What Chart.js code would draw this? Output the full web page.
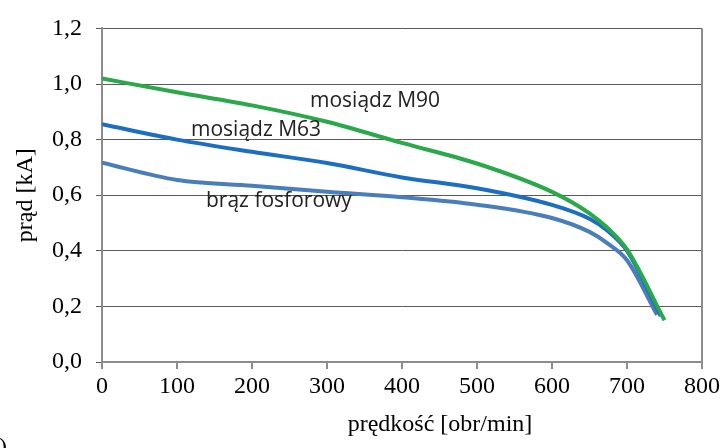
<!DOCTYPE html>
<html>
<head>
<meta charset="utf-8">
<script src="https://cdn.jsdelivr.net/npm/chart.js@4"></script>
<style>
  html, body { margin: 0; padding: 0; background: #fff; }
  #wrap { width: 724px; height: 448px; }
</style>
</head>
<body>
<div id="wrap"><canvas id="chart"></canvas></div>
<script>
// values
var speedM90 = [0, 100, 200, 300, 400, 500, 600, 650, 675, 700, 750];
var currentM90 = [1.02, 0.97, 0.923, 0.864, 0.788, 0.714, 0.612, 0.535, 0.48, 0.405, 0.15];

var speedM63 = [0, 100, 200, 300, 400, 500, 600, 650, 675, 700, 745];
var currentM63 = [0.855, 0.80, 0.756, 0.716, 0.664, 0.625, 0.565, 0.515, 0.47, 0.40, 0.165];

var speedBraz = [0, 100, 200, 300, 400, 500, 600, 650, 675, 700, 740];
var currentBraz = [0.717, 0.655, 0.634, 0.612, 0.593, 0.566, 0.518, 0.468, 0.425, 0.366, 0.17];

var labels = ['mosiądz M90', 'mosiądz M63', 'brąz fosforowy'];
var xTitle = 'prędkość [obr/min]';
var yTitle = 'prąd [kA]';

var serif = "'Liberation Serif', 'Times New Roman', serif";
var sans = "'Open Sans', sans-serif";

function points(xs, ys) {
  return xs.map(function (x, i) { return { x: x, y: ys[i] }; });
}

function line(label, xs, ys, colour) {
  return {
    label: label,
    data: points(xs, ys),
    borderColor: colour,
    borderWidth: 4,
    pointRadius: 0,
    fill: false,
    cubicInterpolationMode: 'monotone'
  };
}

// labels written on the plot, axis titles, right border
var extras = {
  id: 'extras',
  afterDraw: function (chart) {
    var ctx = chart.ctx;
    var area = chart.chartArea;
    ctx.save();

    ctx.strokeStyle = '#8c8c8c';
    ctx.lineWidth = 2;
    ctx.beginPath();
    ctx.moveTo(area.right, area.top);
    ctx.lineTo(area.right, area.bottom);
    ctx.stroke();

    ctx.fillStyle = '#222';
    ctx.font = '21px ' + sans;
    ctx.textAlign = 'left';
    ctx.textBaseline = 'alphabetic';
    ctx.fillText(labels[0], 310, 107);
    ctx.fillText(labels[1], 191, 136);
    ctx.fillText(labels[2], 206, 207);

    ctx.fillStyle = '#000';
    ctx.font = '24px ' + serif;
    ctx.textAlign = 'center';
    ctx.textBaseline = 'middle';
    ctx.fillText(xTitle, 440, 425);

    ctx.save();
    ctx.translate(26, (area.top + area.bottom) / 2);
    ctx.rotate(-Math.PI / 2);
    ctx.fillText(yTitle, 0, 0);
    ctx.restore();

    ctx.textAlign = 'right';
    ctx.textBaseline = 'alphabetic';
    ctx.fillText('b)', 7, 454);
    ctx.restore();
  }
};

new Chart(document.getElementById('chart'), {
  type: 'line',
  data: {
    datasets: [
      line(labels[0], speedM90, currentM90, '#2ba84a'),
      line(labels[1], speedM63, currentM63, '#1c6ec2'),
      line(labels[2], speedBraz, currentBraz, '#4a7ebb')
    ]
  },
  options: {
    responsive: true,
    maintainAspectRatio: false,
    animation: false,
    layout: { padding: { left: 0, right: 22, top: 25, bottom: 0 } },
    plugins: {
      legend: { display: false },
      tooltip: { enabled: false }
    },
    scales: {
      x: {
        type: 'linear',
        min: 0,
        max: 800,
        afterFit: function (scale) { scale.height = 86; },
        ticks: {
          stepSize: 100,
          color: '#000',
          padding: 3,
          maxRotation: 0,
          font: { family: serif, size: 24 }
        },
        grid: {
          drawOnChartArea: false,
          drawTicks: true,
          tickLength: 7,
          color: '#8c8c8c',
          lineWidth: 2
        },
        border: { color: '#8c8c8c', width: 2 }
      },
      y: {
        min: 0,
        max: 1.2,
        afterFit: function (scale) { scale.width = 102; },
        ticks: {
          stepSize: 0.2,
          color: '#000',
          padding: 14,
          font: { family: serif, size: 24 },
          callback: function (v) { return v.toFixed(1).replace('.', ','); }
        },
        grid: {
          color: '#5a5a5a',
          lineWidth: 1,
          tickLength: 6
        },
        border: { color: '#8c8c8c', width: 2 }
      }
    }
  },
  plugins: [extras]
});
</script>
</body>
</html>
